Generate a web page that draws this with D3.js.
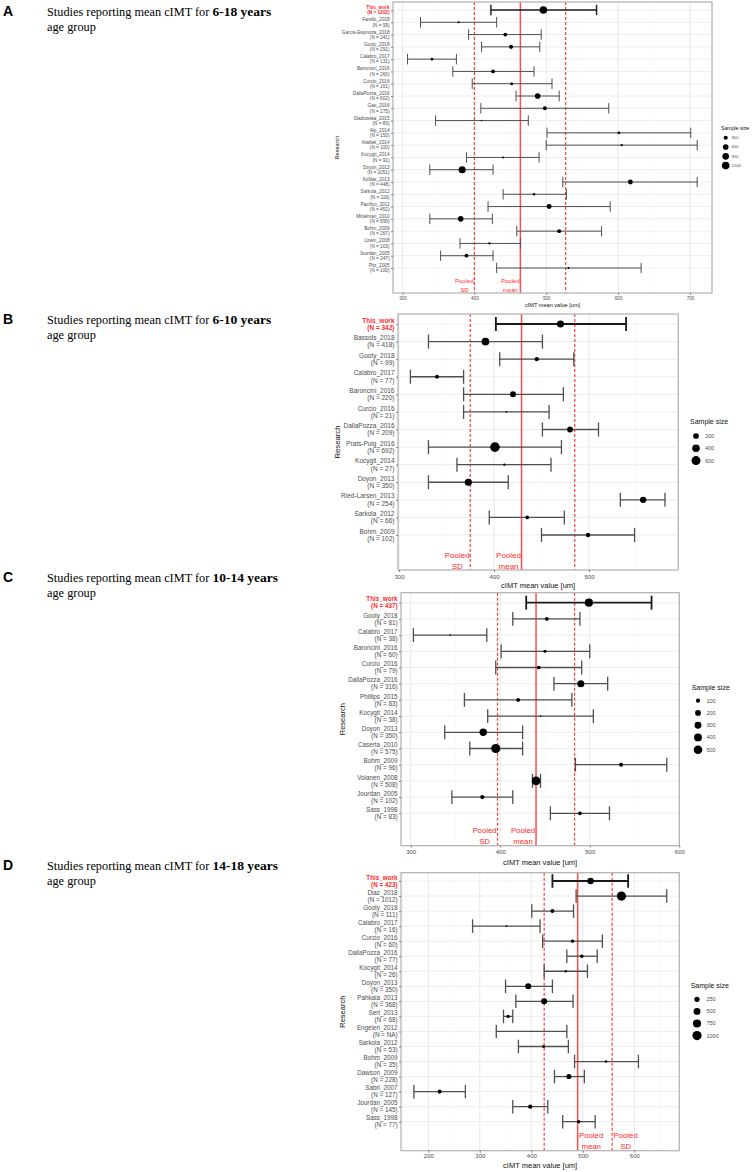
<!DOCTYPE html>
<html><head><meta charset="utf-8">
<script src="https://cdn.jsdelivr.net/npm/d3@7"></script>
<style>body{margin:0;background:#fff} svg{display:block}</style>
</head><body>
<svg id="c" width="756" height="1172"></svg>
<script>
// ---------- Panel A : 6-18 years ----------
const studiesA = ["This_work","Farello_2018","Garcia-Espinoza_2018","Gooty_2018","Calabro_2017","Baroncini_2016","Curcio_2016","DallaPozza_2016","Gao_2016","Sladowska_2015","Alp_2014","Atabek_2014","Kocygit_2014","Doyon_2013","Kollias_2013","Sarkola_2012","Pacifico_2011","Mittelman_2010","Bohm_2009","Litwin_2008","Jourdan_2005","Pitz_2005"];
const sizeA = [1202,99,241,291,131,260,161,602,275,83,150,100,91,1051,448,119,452,599,267,103,247,100];
const meanA = [496,378,443,451,341,426,452,488,498,410,601,605,440,383,617,483,504,381,518,421,389,531];
const lowA  = [423,325,392,410,307,370,397,458,409,346,501,500,389,338,523,440,419,338,459,380,353,431];
const highA = [570,431,493,491,375,483,508,518,587,475,701,710,490,426,710,528,589,425,577,464,426,632];
const pooledA = [400,464,527];
const ticksA = [300,400,500,600,700];
const legendA = [300,600,900,1200];

// ---------- Panel B : 6-10 years ----------
const studiesB = ["This_work","Bassols_2018","Gooty_2018","Calabro_2017","Baroncini_2016","Curcio_2016","DallaPozza_2016","Prats-Puig_2016","Kocygit_2014","Doyon_2013","Ried-Larsen_2013","Sarkola_2012","Bohm_2009"];
const sizeB = [342,418,99,77,220,21,209,692,27,350,254,66,102];
const meanB = [470,391,445,340,420,413,480,401,411,373,557,435,499];
const lowB  = [402,331,406,312,368,368,451,331,361,331,533,395,450];
const highB = [539,451,484,368,473,458,510,471,460,415,580,474,548];
const pooledB = [375,429,485];
const ticksB = [300,400,500];
const legendB = [200,400,600];

// ---------- Panel C : 10-14 years ----------
const studiesC = ["This_work","Gooty_2018","Calabro_2017","Baroncini_2016","Curcio_2016","DallaPozza_2016","Phillips_2015","Kocygit_2014","Doyon_2013","Caserta_2010","Bohm_2009","Volanen_2008","Jourdan_2005","Sass_1998"];
const sizeC = [437,81,38,60,79,316,83,38,350,575,96,508,102,83];
const meanC = [499,452,344,450,443,490,420,445,381,395,535,440,380,489];
const lowC  = [429,414,303,401,395,460,360,386,338,366,484,436,346,456];
const highC = [569,489,385,500,491,520,480,504,425,425,586,445,414,522];
const pooledC = [397,440,483];
const ticksC = [300,400,500,600];
const legendC = [100,200,300,400,500];

// ---------- Panel D : 14-18 years ----------
const studiesD = ["This_work","Diaz_2018","Gooty_2018","Calabro_2017","Curcio_2016","DallaPozza_2016","Kocygit_2014","Doyon_2013","Pahkala_2013","Sert_2013","Engelen_2012","Sarkola_2012","Bohm_2009","Dawson_2009","Sabri_2007","Jourdan_2005","Sass_1998"];
const sizeD = [423,1012,111,16,60,77,26,350,368,68,null,53,35,228,127,145,77];
const meanD = [515,575,441,352,480,498,467,394,425,355,401,424,545,473,222,398,492];
const lowD  = [441,487,401,286,422,469,425,350,370,346,332,375,484,445,172,364,461];
const highD = [588,663,482,417,538,528,509,441,481,364,469,472,608,503,272,432,524];
const pooledD = [425,490,557];
const ticksD = [200,300,400,500,600];
const legendD = [250,500,750,1000];

const titlePrefix = "Studies reporting mean cIMT for ";
const titleSuffix = "age group";
const xTitle = "cIMT mean value [um]";
const yTitle = "Research";
const legendTitle = "Sample size";

const svg = d3.select("#c");
svg.append("rect").attr("width",756).attr("height",1172).attr("fill","#fff");

const RED = "#ff2a2a";
const SANS = "'Liberation Sans', Arial, sans-serif";
const SERIF = "'Liberation Serif', 'Times New Roman', serif";

const panels = [
 {letter:"A", ages:"6-18 years", studies:studiesA, n:sizeA, mean:meanA, low:lowA, high:highA, pooled:pooledA, ticks:ticksA, legend:legendA,
  L:{titleY:15.7, left:393,right:712,top:2,bottom:293, a0:[300,402.5], a1:[700,690], row0:10,row1:268,
     fsTick:4.7, fsAxis:4.6, fsXT:5.6, fsYT:5.6, fsLegT:5.2, fsLegL:4.2, fsPool:6,
     poolY:[-12,-2.7], side:-1, poolOff:10, legX:721, legTY:127.7, legY0:137.7, legStep:9.3, legCx:725.7, legLx:731.5,
     r:[0.7,3.8], tickPad:1.5, xTitleBase:307, yTitleX:337, lw:1, lwMain:1.4, cap:0.85}},
 {letter:"B", ages:"6-10 years", studies:studiesB, n:sizeB, mean:meanB, low:lowB, high:highB, pooled:pooledB, ticks:ticksB, legend:legendB,
  L:{titleY:324, left:398,right:678.3,top:314,bottom:570, a0:[400,494], a1:[500,589], row0:324,row1:535,
     fsTick:6.5, fsAxis:6, fsXT:7.5, fsYT:7.7, fsLegT:7, fsLegL:5.5, fsPool:8,
     poolY:[-15,-4], side:-1, poolOff:13, legX:690, legTY:422, legY0:436, legStep:12.3, legCx:696, legLx:705,
     r:[0.8,4.8], tickPad:2.5, xTitleBase:588, yTitleX:337, lw:1.3, lwMain:1.8, cap:0.8}},
 {letter:"C", ages:"10-14 years", studies:studiesC, n:sizeC, mean:meanC, low:lowC, high:highC, pooled:pooledC, ticks:ticksC, legend:legendC,
  L:{titleY:582, left:401,right:679.3,top:592.7,bottom:845.7, a0:[300,410.7], a1:[600,679.3], row0:602.7,row1:813.3,
     fsTick:6.3, fsAxis:6, fsXT:7.5, fsYT:7.5, fsLegT:7, fsLegL:5.5, fsPool:7.8,
     poolY:[-15,-4], side:-1, poolOff:13, legX:691.7, legTY:687.7, legY0:700.7, legStep:12.25, legCx:698, legLx:706.5,
     r:[0.8,4.6], tickPad:2, xTitleBase:865, yTitleX:342.5, lw:1.3, lwMain:1.8, cap:0.86}},
 {letter:"D", ages:"14-18 years", studies:studiesD, n:sizeD, mean:meanD, low:lowD, high:highD, pooled:pooledD, ticks:ticksD, legend:legendD,
  L:{titleY:870, left:401,right:679.3,top:872.7,bottom:1150.7, a0:[200,428.3], a1:[600,634.3], row0:881,row1:1121.7,
     fsTick:6.3, fsAxis:6, fsXT:7.5, fsYT:7.5, fsLegT:7, fsLegL:5.5, fsPool:7.8,
     poolY:[-15,-4], side:1, poolOff:13.5, legX:690.7, legTY:986, legY0:999.3, legStep:12.1, legCx:697, legLx:706.5,
     r:[0.8,4.6], tickPad:1.5, xTitleBase:1168, yTitleX:342.5, lw:1.3, lwMain:1.8, cap:0.9}}
];

function drawPanel(p){
  const L = p.L;
  const g = svg.append("g");
  // title block
  g.append("text").attr("x",3).attr("y",L.titleY).attr("font-family",SANS).attr("font-weight","bold")
    .attr("font-size",14).attr("fill","#000").text(p.letter);
  const t = g.append("text").attr("x",47).attr("y",L.titleY).attr("font-family",SERIF).attr("font-size",12.3).attr("fill","#000");
  t.append("tspan").text(titlePrefix);
  t.append("tspan").attr("font-weight","bold").attr("font-size",13.5).text(p.ages);
  g.append("text").attr("x",47).attr("y",L.titleY+15).attr("font-family",SERIF).attr("font-size",12.3).attr("fill","#000").text(titleSuffix);

  const x = d3.scaleLinear().domain([L.a0[0],L.a1[0]]).range([L.a0[1],L.a1[1]]);
  const y = d3.scalePoint().domain(d3.range(p.studies.length)).range([L.row0,L.row1]);
  const step = y.step();
  const nMin = d3.min(p.n.filter(v=>v!=null)), nMax = d3.max(p.n);
  const rLin = d3.scaleLinear().domain([0,1]).range(L.r);
  const rad = v => rLin(Math.sqrt((v-nMin)/(nMax-nMin)));

  const vMin = x.invert(L.left), vMax = x.invert(L.right);
  const tStep = p.ticks[1]-p.ticks[0];
  const minor = [p.ticks[0]-tStep/2].concat(p.ticks.map(v=>v+tStep/2)).filter(v=>v>vMin && v<vMax);

  g.append("rect").attr("x",L.left).attr("y",L.top).attr("width",L.right-L.left).attr("height",L.bottom-L.top).attr("fill","#fff");
  g.selectAll(".mn").data(minor).join("line").attr("x1",d=>x(d)).attr("x2",d=>x(d)).attr("y1",L.top).attr("y2",L.bottom)
    .attr("stroke","#f3f3f3").attr("stroke-width",0.5);
  g.selectAll(".mj").data(p.ticks).join("line").attr("x1",d=>x(d)).attr("x2",d=>x(d)).attr("y1",L.top).attr("y2",L.bottom)
    .attr("stroke","#e6e6e6").attr("stroke-width",0.9);
  g.selectAll(".hr").data(d3.range(p.studies.length)).join("line").attr("x1",L.left).attr("x2",L.right).attr("y1",d=>y(d)).attr("y2",d=>y(d))
    .attr("stroke","#ececec").attr("stroke-width",0.9);

  // pooled lines
  g.append("line").attr("x1",x(p.pooled[1])).attr("x2",x(p.pooled[1])).attr("y1",L.top).attr("y2",L.bottom)
    .attr("stroke","#ff4d4d").attr("stroke-width",1.5);
  [p.pooled[0],p.pooled[2]].forEach(v=>{
    g.append("line").attr("x1",x(v)).attr("x2",x(v)).attr("y1",L.top).attr("y2",L.bottom)
      .attr("stroke","#ff3b3b").attr("stroke-width",1.2).attr("stroke-dasharray","3,2");
  });

  // error bars
  const idx = d3.range(p.studies.length);
  const capH = step*L.cap/2;
  const bars = g.append("g");
  idx.forEach(i=>{
    const col = i===0 ? "#1a1a1a" : "#4f4f4f";
    const w = i===0 ? L.lwMain : L.lw;
    bars.append("line").attr("x1",x(p.low[i])).attr("x2",x(p.high[i])).attr("y1",y(i)).attr("y2",y(i)).attr("stroke",col).attr("stroke-width",w);
    [p.low[i],p.high[i]].forEach(v=>{
      bars.append("line").attr("x1",x(v)).attr("x2",x(v)).attr("y1",y(i)-capH).attr("y2",y(i)+capH).attr("stroke",col).attr("stroke-width",w);
    });
  });
  g.selectAll(".pt").data(idx.filter(i=>p.n[i]!=null)).join("circle")
    .attr("cx",i=>x(p.mean[i])).attr("cy",i=>y(i)).attr("r",i=>rad(p.n[i])).attr("fill","#000");

  // pooled labels
  const lab = L.side<0 ? [[p.pooled[0],"SD"],[p.pooled[1],"mean"]] : [[p.pooled[1],"mean"],[p.pooled[2],"SD"]];
  lab.forEach(([v,w])=>{
    const cx = x(v)+L.side*L.poolOff;
    g.append("text").attr("x",cx).attr("y",L.bottom+L.poolY[0]+0.35*L.fsPool).attr("text-anchor","middle")
      .attr("font-family",SANS).attr("font-size",L.fsPool).attr("fill",RED).text("Pooled");
    g.append("text").attr("x",cx).attr("y",L.bottom+L.poolY[1]+0.35*L.fsPool).attr("text-anchor","middle")
      .attr("font-family",SANS).attr("font-size",L.fsPool).attr("fill",RED).text(w);
  });

  // border
  g.append("rect").attr("x",L.left).attr("y",L.top).attr("width",L.right-L.left).attr("height",L.bottom-L.top)
    .attr("fill","none").attr("stroke","#b0b0b0").attr("stroke-width",1.2);

  // x axis
  const xa = g.append("g").attr("transform",`translate(0,${L.bottom})`)
    .call(d3.axisBottom(x).tickValues(p.ticks).tickSize(2).tickPadding(L.tickPad));
  xa.select(".domain").remove();
  xa.selectAll("line").attr("stroke","#555").attr("stroke-width",0.7);
  xa.selectAll("text").attr("font-family",SANS).attr("font-size",L.fsAxis).attr("fill","#4d4d4d");
  g.append("text").attr("x",(L.left+L.right)/2).attr("y",L.xTitleBase).attr("text-anchor","middle")
    .attr("font-family",SANS).attr("font-size",L.fsXT).attr("fill","#111").text(xTitle);

  // y axis
  const ya = g.append("g").attr("transform",`translate(${L.left},0)`)
    .call(d3.axisLeft(y).tickSize(2).tickFormat(""));
  ya.select(".domain").remove();
  ya.selectAll("line").attr("stroke","#555").attr("stroke-width",0.7);
  const dy = 0.56*L.fsTick;
  idx.forEach(i=>{
    const main = i===0;
    const tt = g.append("text").attr("text-anchor","end").attr("font-family",SANS).attr("font-size",L.fsTick)
      .attr("fill",main?RED:"#4d4d4d").attr("font-weight",main?"bold":"normal");
    tt.append("tspan").attr("x",L.left-3.5).attr("y",y(i)-dy+0.35*L.fsTick).text(p.studies[i]);
    tt.append("tspan").attr("x",L.left-3.5).attr("y",y(i)+dy+0.35*L.fsTick).text(`(N = ${p.n[i]==null?"NA":p.n[i]})`);
  });
  const yc = (L.top+L.bottom)/2;
  g.append("text").attr("transform",`translate(${L.yTitleX},${yc}) rotate(-90)`).attr("text-anchor","middle")
    .attr("dy","0.35em").attr("font-family",SANS).attr("font-size",L.fsYT).attr("fill","#111").text(yTitle);

  // size legend
  g.append("text").attr("x",L.legX).attr("y",L.legTY+0.35*L.fsLegT).attr("font-family",SANS).attr("font-size",L.fsLegT)
    .attr("fill","#111").text(legendTitle);
  p.legend.forEach((v,k)=>{
    const cy = L.legY0 + k*L.legStep;
    g.append("circle").attr("cx",L.legCx).attr("cy",cy).attr("r",rad(v)).attr("fill","#000");
    g.append("text").attr("x",L.legLx).attr("y",cy+0.35*L.fsLegL).attr("font-family",SANS).attr("font-size",L.fsLegL)
      .attr("fill","#4d4d4d").text(v);
  });
}
panels.forEach(drawPanel);
</script>
</body></html>
